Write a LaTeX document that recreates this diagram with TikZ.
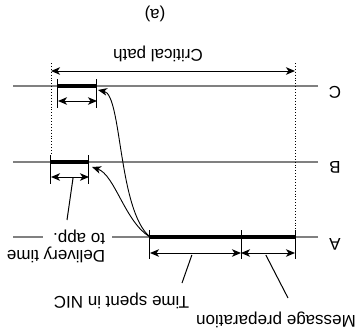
\documentclass[tikz,border=0pt]{standalone}
\usepackage{fontspec}
\setmainfont{Liberation Sans}
\usetikzlibrary{arrows.meta,positioning,calc}

\tikzset{
    proc/.style={draw=black!50, line width=1.1pt},
    busy/.style={line width=3.5pt},
    tickmark/.style={line width=1pt},
    span/.style={{Stealth[length=9pt,width=7.5pt,inset=2.5pt]}-{Stealth[length=9pt,width=7.5pt,inset=2.5pt]}, line width=1pt},
    hop/.style={-{Stealth[length=9pt,width=7.5pt,inset=2.5pt]}, line width=0.9pt},
    guide/.style={dotted, line width=0.9pt},
}

\begin{document}
\begin{tikzpicture}[x=1pt, y=1pt, rotate=180,
    every node/.style={transform shape, font=\fontsize{17}{17.5}\selectfont}]
    \useasboundingbox (0,0) rectangle (355,332);

    % process lines
    \draw[proc] (37,237) -- (243,237);
    \draw[proc] (312,237) -- (342,237);
    \draw[proc] (37,162) -- (342,162);
    \draw[proc] (37,86) -- (342,86);
    \node (lblA) at (20,244) {A};
    \node (lblB) at (20,167) {B};
    \node (lblC) at (20,92) {C};

    % busy periods
    \coordinate (a0) at (60,237);
    \coordinate (a1) at (114,237);
    \coordinate (a2) at (205,237);
    \coordinate (b0) at (266,162);
    \coordinate (b1) at (304,162);
    \coordinate (c0) at (258,86);
    \coordinate (c1) at (297,86);
    \draw[busy] (a0) -- (a2);
    \draw[busy] (b0) -- (b1);
    \draw[busy] (c0) -- (c1);
    \foreach \p in {a0,a1,a2,b0,b1,c0,c1}
        \draw[tickmark] (\p) ++(0,-7) -- ++(0,29);

    \draw[span] ($(a0)+(0,16)$) -- ($(a1)+(0,16)$);
    \draw[span] ($(a1)+(0,16)$) -- ($(a2)+(0,16)$);
    \draw[span] ($(b0)+(0,15)$) -- ($(b1)+(0,15)$);
    \draw[span] ($(c0)+(0,15)$) -- ($(c1)+(0,15)$);

    % critical path
    \coordinate (cp0) at (60,71);
    \coordinate (cp1) at (304,71);
    \draw[guide] (60,63) -- (a0);
    \draw[guide] (304,63) -- ($(b1)+(0,-7)$);
    \draw[span] (cp0) -- (cp1);
    \node (cpath) at (197,54) {Critical path};
    \node (caption) at (200,14) {(a)};

    % message hops
    \draw[hop] (a2) .. controls (237,210) and (233,95) .. ($(c0)+(-1,4)$);
    \draw[hop] (a2) .. controls (230,222) and (240,175) .. ($(b0)+(-3,5)$);

    % labels
    \node (msgprep) at (79,320) {Message preparation};
    \node (nictime) at (233.5,301) {Time spent in NIC};
    \node[align=left] (deliv) at (299,246.5) {Delivery time\\to app.};
    \coordinate (msgend) at (67,298);
    \coordinate (nicend) at (173,283);
    \coordinate (delend) at (288,220);
    \draw[tickmark] (msgend) -- ($(a0)!0.54!(a1)+(0,18)$);
    \draw[tickmark] (nicend) -- ($(a1)!0.54!(a2)+(0,18)$);
    \draw[tickmark] (delend) -- ($(b0)!0.42!(b1)+(0,16)$);
\end{tikzpicture}
\end{document}
